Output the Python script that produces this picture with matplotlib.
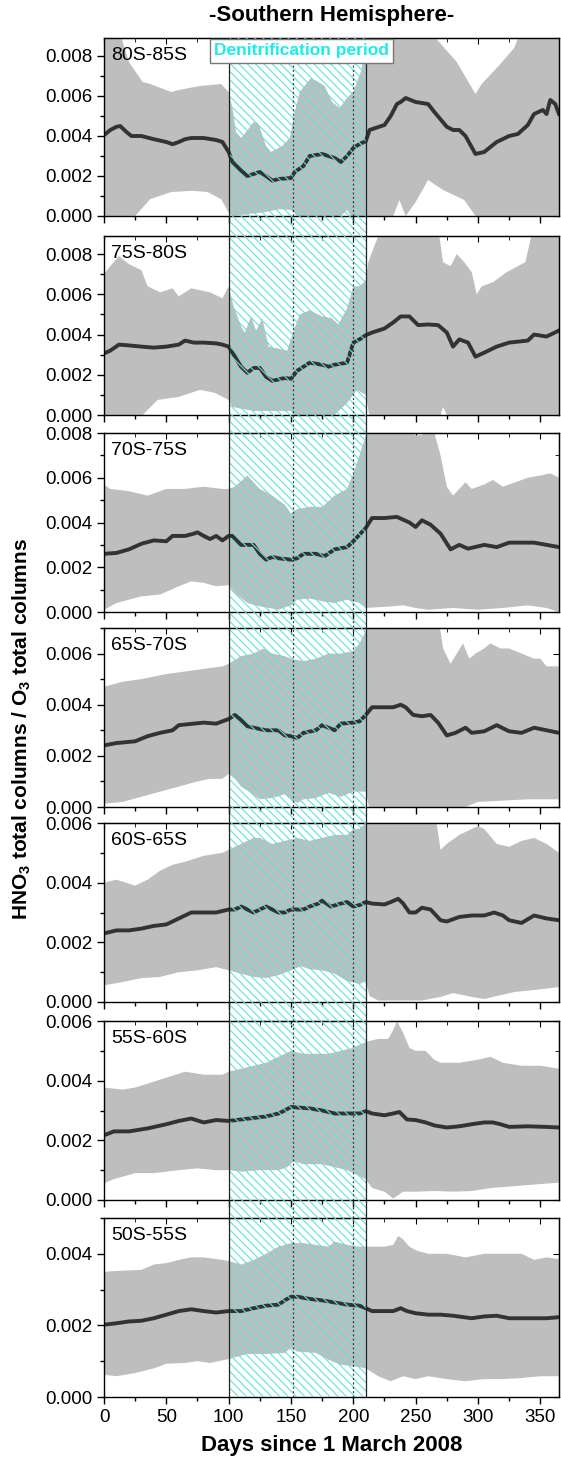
import numpy as np
import matplotlib
matplotlib.use('Agg')
import matplotlib.pyplot as plt
from matplotlib.ticker import MultipleLocator, FormatStrFormatter

plt.rcParams['font.family'] = ['Liberation Sans', 'DejaVu Sans']
plt.rcParams['mathtext.fontset'] = 'custom'
plt.rcParams['mathtext.rm'] = 'Liberation Sans'
plt.rcParams['mathtext.bf'] = 'Liberation Sans:bold'
plt.rcParams['hatch.color'] = '#5ee3e3'
plt.rcParams['hatch.linewidth'] = 0.8

# latitude bands, top to bottom
bands = ['80S-85S', '75S-80S', '70S-75S', '65S-70S', '60S-65S', '55S-60S', '50S-55S']
y_top = [0.0089, 0.0089, 0.008, 0.007, 0.006, 0.006, 0.005]

# denitrification period and marker days
denit_start, denit_end = 100, 210
marker_days = [152, 200]

# ---- 80S-85S
mean_d_80 = [0, 5, 10, 13, 18, 22, 30, 40, 50, 55, 60, 65, 70, 80, 90, 95, 100, 103, 110, 115, 125, 130, 135, 140, 150, 153, 160, 165, 175, 185, 190, 195, 200, 205, 210, 213, 225, 230, 235, 238, 242, 250, 260, 265, 275, 280, 285, 290, 298, 305, 315, 325, 332, 340, 345, 352, 355, 358, 362, 365]
mean_80 = [0.00404, 0.0043, 0.00446, 0.0045, 0.0042, 0.0040, 0.0040, 0.00384, 0.0037, 0.00359, 0.0037, 0.00384, 0.0039, 0.0039, 0.0038, 0.0037, 0.0032, 0.0027, 0.00227, 0.0020, 0.0022, 0.0020, 0.00177, 0.00185, 0.0019, 0.0022, 0.0025, 0.0030, 0.0031, 0.0029, 0.0027, 0.0030, 0.0034, 0.0036, 0.00374, 0.0043, 0.00455, 0.0050, 0.0056, 0.0057, 0.0059, 0.0057, 0.0056, 0.0052, 0.00446, 0.0043, 0.0043, 0.0040, 0.0031, 0.0032, 0.0037, 0.0040, 0.0041, 0.00455, 0.0051, 0.0053, 0.0051, 0.0058, 0.0056, 0.0051]
up_d_80 = [0, 12, 14, 20, 31, 37, 54, 60, 77, 94, 100, 103, 106, 110, 114, 120, 124, 130, 134, 143, 149, 153, 157, 166, 172, 177, 183, 189, 195, 200, 206, 209, 211, 264, 266, 283, 298, 303, 318, 329, 336, 365]
up_80 = [0.0095, 0.0095, 0.0089, 0.0077, 0.0067, 0.0066, 0.0062, 0.0063, 0.0065, 0.0066, 0.0062, 0.0054, 0.0042, 0.0039, 0.0042, 0.0047, 0.0046, 0.0035, 0.0032, 0.0035, 0.0039, 0.0052, 0.0062, 0.0069, 0.0067, 0.0065, 0.0057, 0.0054, 0.0059, 0.0062, 0.0072, 0.0081, 0.0095, 0.0095, 0.0089, 0.0077, 0.0061, 0.0066, 0.0076, 0.0084, 0.0095, 0.0095]
lo_d_80 = [0, 25, 37, 54, 71, 83, 94, 100, 103, 130, 140, 150, 155, 190, 195, 198, 232, 237, 242, 250, 260, 272, 289, 298, 365]
lo_80 = [-0.0003, 0.0, 0.00084, 0.0012, 0.00126, 0.0012, 0.00084, 0.00017, 0.0, 0.0002, 0.00034, 0.0003, 0.0, 0.0, 0.0003, 0.0, 0.0, 0.0008, 0.0, 0.0007, 0.0018, 0.0013, 0.0008, 0.0, -0.0002]

# ---- 75S-80S
mean_d_75 = [0, 5, 12, 20, 30, 40, 50, 60, 65, 72, 80, 90, 95, 100, 105, 110, 115, 120, 125, 130, 135, 145, 150, 155, 165, 175, 180, 185, 195, 200, 205, 210, 215, 225, 232, 238, 245, 252, 260, 268, 275, 280, 285, 292, 298, 305, 315, 325, 340, 345, 355, 365]
mean_75 = [0.00306, 0.0032, 0.0035, 0.00346, 0.0034, 0.00335, 0.0034, 0.0035, 0.0037, 0.0036, 0.0036, 0.00356, 0.0035, 0.0034, 0.0029, 0.0024, 0.0021, 0.00234, 0.00234, 0.0019, 0.0017, 0.00184, 0.0018, 0.0022, 0.0026, 0.0025, 0.0024, 0.0025, 0.0026, 0.0036, 0.00376, 0.00397, 0.0041, 0.0043, 0.0046, 0.0049, 0.0049, 0.00447, 0.0045, 0.00447, 0.0041, 0.0034, 0.00376, 0.0036, 0.0029, 0.0031, 0.0034, 0.0036, 0.0037, 0.0040, 0.0039, 0.0042]
up_d_75 = [0, 5, 12, 20, 30, 35, 45, 55, 60, 70, 85, 95, 100, 104, 110, 113, 118, 122, 127, 132, 140, 147, 150, 157, 165, 175, 183, 188, 195, 200, 205, 210, 212, 220, 223, 267, 269, 272, 278, 283, 289, 295, 299, 303, 312, 323, 338, 345, 365]
up_75 = [0.0070, 0.0074, 0.0079, 0.0075, 0.0072, 0.0064, 0.0061, 0.0063, 0.0059, 0.0063, 0.0061, 0.0058, 0.0064, 0.0054, 0.0044, 0.0041, 0.0049, 0.0042, 0.0048, 0.0034, 0.0033, 0.0032, 0.0038, 0.0050, 0.0052, 0.0049, 0.0048, 0.0045, 0.0053, 0.0064, 0.0064, 0.0067, 0.0076, 0.0089, 0.0095, 0.0095, 0.0089, 0.0076, 0.0074, 0.0080, 0.0076, 0.0071, 0.0060, 0.0064, 0.0066, 0.0071, 0.0076, 0.0095, 0.0095]
lo_d_75 = [0, 31, 43, 60, 77, 89, 100, 103, 120, 150, 152, 185, 195, 203, 210, 213, 270, 272, 275, 365]
lo_75 = [-0.0002, 0.0, 0.00075, 0.0009, 0.00125, 0.0011, 0.00075, 0.0004, 0.0002, 0.0002, 0.0, 0.0, 0.0006, 0.00125, 0.0010, -0.0001, 0.0, 0.0004, 0.0, -0.0002]

# ---- 70S-75S
mean_d_70 = [0, 10, 20, 30, 40, 50, 55, 65, 72, 75, 80, 85, 90, 95, 100, 103, 110, 120, 125, 130, 135, 140, 150, 155, 160, 170, 177, 185, 195, 200, 210, 215, 225, 235, 245, 250, 255, 262, 270, 278, 285, 292, 305, 315, 325, 335, 345, 355, 365]
mean_70 = [0.0026, 0.00264, 0.0028, 0.00305, 0.0032, 0.00316, 0.0034, 0.0034, 0.0035, 0.00356, 0.0034, 0.00326, 0.0034, 0.0032, 0.0034, 0.0034, 0.0030, 0.0030, 0.0026, 0.00234, 0.00246, 0.0024, 0.00234, 0.0024, 0.0026, 0.0026, 0.0025, 0.0028, 0.0029, 0.00316, 0.00376, 0.0042, 0.0042, 0.00425, 0.0040, 0.0038, 0.0041, 0.0039, 0.0035, 0.0028, 0.0030, 0.00283, 0.0030, 0.0029, 0.0031, 0.0031, 0.0031, 0.0030, 0.0029]
up_d_70 = [0, 5, 20, 35, 50, 65, 80, 95, 100, 105, 115, 125, 135, 145, 150, 155, 165, 175, 185, 195, 200, 205, 210, 213, 245, 250, 255, 260, 262, 265, 270, 275, 280, 285, 290, 295, 305, 312, 320, 330, 340, 350, 358, 365]
up_70 = [0.0057, 0.0055, 0.0054, 0.0052, 0.0055, 0.0055, 0.0056, 0.0055, 0.0055, 0.0056, 0.0061, 0.0055, 0.0052, 0.0048, 0.0044, 0.0046, 0.0047, 0.0047, 0.0052, 0.0055, 0.0062, 0.0070, 0.0079, 0.0085, 0.0081, 0.0079, 0.0079, 0.0081, 0.0085, 0.0080, 0.0070, 0.0056, 0.0052, 0.0055, 0.0058, 0.0055, 0.0057, 0.0059, 0.0056, 0.0058, 0.0060, 0.0061, 0.0062, 0.0060]
lo_d_70 = [0, 10, 20, 30, 45, 60, 70, 80, 90, 100, 105, 115, 125, 140, 150, 155, 165, 175, 185, 195, 205, 210, 230, 240, 250, 260, 280, 300, 320, 340, 355, 365]
lo_70 = [0.0001, 0.0004, 0.00055, 0.0007, 0.00078, 0.00115, 0.00137, 0.0013, 0.00115, 0.0012, 0.00085, 0.0004, 0.00025, 0.0001, 0.0003, 0.00055, 0.0006, 0.00048, 0.0004, 0.00055, 0.0004, 0.00018, 0.00025, 0.0003, 0.00018, 0.0001, 0.00018, 0.0001, 0.00018, 0.0003, 0.00018, 0.0]

# ---- 65S-70S
mean_d_65 = [0, 10, 25, 35, 45, 55, 60, 70, 80, 90, 95, 100, 105, 110, 115, 120, 130, 140, 145, 150, 155, 160, 170, 175, 185, 190, 200, 205, 210, 215, 225, 232, 238, 242, 248, 255, 262, 268, 275, 282, 290, 295, 305, 315, 325, 335, 345, 355, 365]
mean_65 = [0.00241, 0.0025, 0.00257, 0.00277, 0.0029, 0.0030, 0.0032, 0.00325, 0.0033, 0.00326, 0.00335, 0.00344, 0.0036, 0.0034, 0.00316, 0.0031, 0.0030, 0.0030, 0.0028, 0.00277, 0.0027, 0.0029, 0.0030, 0.0032, 0.0030, 0.00326, 0.0033, 0.00335, 0.0036, 0.0039, 0.0039, 0.0039, 0.0040, 0.0039, 0.0036, 0.00355, 0.0036, 0.0033, 0.0028, 0.0029, 0.0031, 0.0029, 0.00296, 0.0032, 0.00296, 0.0029, 0.0031, 0.0030, 0.0029]
up_d_65 = [0, 15, 30, 40, 50, 65, 80, 95, 100, 110, 120, 128, 135, 145, 150, 160, 170, 180, 190, 200, 205, 210, 212, 268, 272, 278, 283, 288, 293, 298, 305, 310, 318, 325, 335, 345, 350, 355, 365]
up_65 = [0.0047, 0.0049, 0.0050, 0.0051, 0.0052, 0.0053, 0.0054, 0.0055, 0.0056, 0.0059, 0.0060, 0.0062, 0.0060, 0.0059, 0.0058, 0.0057, 0.0058, 0.0060, 0.0060, 0.0061, 0.0064, 0.0069, 0.0075, 0.0075, 0.0062, 0.0056, 0.0060, 0.0064, 0.0058, 0.0060, 0.0062, 0.0064, 0.0062, 0.0062, 0.0060, 0.0058, 0.0058, 0.0055, 0.0055]
lo_d_65 = [0, 15, 30, 45, 60, 75, 85, 95, 100, 105, 110, 118, 125, 135, 145, 150, 155, 160, 170, 180, 190, 200, 210, 213, 290, 300, 340, 365]
lo_65 = [0.00013, 0.0002, 0.0004, 0.0006, 0.0008, 0.0010, 0.0011, 0.0011, 0.0013, 0.0011, 0.0008, 0.00055, 0.0003, 0.00035, 0.0005, 0.0003, 0.00016, 0.0003, 0.00035, 0.00055, 0.0004, 0.0006, 0.0006, -0.0001, 0.0, 0.0002, 0.0003, 0.0003]

# ---- 60S-65S
mean_d_60 = [0, 10, 20, 30, 40, 50, 60, 70, 80, 90, 100, 105, 110, 115, 120, 125, 130, 135, 140, 145, 150, 160, 165, 172, 175, 182, 190, 195, 200, 205, 210, 215, 225, 230, 236, 240, 245, 250, 255, 262, 270, 275, 285, 295, 305, 313, 320, 325, 335, 345, 355, 365]
mean_60 = [0.0023, 0.0024, 0.0024, 0.00246, 0.00255, 0.0026, 0.0028, 0.0030, 0.0030, 0.0030, 0.0031, 0.0031, 0.0032, 0.0031, 0.0030, 0.0031, 0.0032, 0.0031, 0.0030, 0.0030, 0.0031, 0.0031, 0.0032, 0.0033, 0.0034, 0.0032, 0.0033, 0.00335, 0.0032, 0.00325, 0.00335, 0.0033, 0.00327, 0.00335, 0.00346, 0.0033, 0.0030, 0.0030, 0.00316, 0.0031, 0.00274, 0.0027, 0.00285, 0.0029, 0.0029, 0.0030, 0.0029, 0.00274, 0.00265, 0.0029, 0.0028, 0.00274]
up_d_60 = [0, 10, 25, 35, 45, 55, 65, 80, 95, 100, 110, 120, 125, 135, 145, 155, 165, 175, 185, 195, 200, 205, 210, 212, 265, 270, 275, 285, 295, 300, 305, 315, 325, 335, 345, 355, 365]
up_60 = [0.0040, 0.0041, 0.0039, 0.0041, 0.0044, 0.0046, 0.0047, 0.0049, 0.0050, 0.0051, 0.0053, 0.0055, 0.0055, 0.0053, 0.0054, 0.0055, 0.0054, 0.0055, 0.0056, 0.0056, 0.0058, 0.0058, 0.0060, 0.0065, 0.0065, 0.0051, 0.0053, 0.0056, 0.0058, 0.0059, 0.0058, 0.0053, 0.0052, 0.0054, 0.0055, 0.0053, 0.0050]
lo_d_60 = [0, 15, 30, 45, 60, 75, 90, 100, 110, 120, 130, 140, 150, 158, 165, 175, 185, 195, 205, 210, 213, 220, 255, 270, 280, 295, 305, 315, 330, 345, 355, 365]
lo_60 = [0.00056, 0.00067, 0.0008, 0.00084, 0.0010, 0.00106, 0.00117, 0.00106, 0.00095, 0.00084, 0.0008, 0.0009, 0.00106, 0.0012, 0.0011, 0.00106, 0.00095, 0.0007, 0.0006, 0.0007, 0.0002, 0.00005, 0.00005, 0.00017, 0.0003, 0.00017, 0.0001, 0.0002, 0.00034, 0.0004, 0.00045, 0.0005]

# ---- 55S-60S
mean_d_55 = [0, 8, 20, 35, 50, 60, 70, 80, 90, 100, 110, 120, 130, 140, 145, 150, 155, 165, 175, 185, 195, 205, 210, 215, 225, 232, 237, 243, 250, 258, 265, 275, 285, 295, 305, 312, 318, 325, 340, 355, 365]
mean_55 = [0.00217, 0.0023, 0.0023, 0.0024, 0.00254, 0.00265, 0.00273, 0.0026, 0.00268, 0.00265, 0.0027, 0.00275, 0.0028, 0.0029, 0.0030, 0.00312, 0.0031, 0.00307, 0.0030, 0.0029, 0.0029, 0.0029, 0.00298, 0.0029, 0.00284, 0.0029, 0.00295, 0.0027, 0.00268, 0.0026, 0.0025, 0.00243, 0.00247, 0.00254, 0.0026, 0.0026, 0.00254, 0.00245, 0.00247, 0.00245, 0.00243]
up_d_55 = [0, 15, 25, 35, 50, 65, 80, 95, 100, 110, 120, 130, 140, 150, 160, 170, 180, 190, 200, 210, 220, 228, 232, 235, 240, 245, 250, 258, 265, 270, 285, 300, 310, 315, 320, 335, 350, 365]
up_55 = [0.00377, 0.0037, 0.00377, 0.0039, 0.0041, 0.0043, 0.0042, 0.0042, 0.0043, 0.0044, 0.0045, 0.0046, 0.0048, 0.0050, 0.0049, 0.0049, 0.0049, 0.0050, 0.0051, 0.0053, 0.0054, 0.0054, 0.0057, 0.0060, 0.0056, 0.0051, 0.0050, 0.0050, 0.0047, 0.0046, 0.0046, 0.0047, 0.0048, 0.0047, 0.0046, 0.0045, 0.0045, 0.0044]
lo_d_55 = [0, 8, 25, 40, 60, 75, 90, 100, 110, 125, 140, 147, 152, 160, 175, 185, 195, 205, 210, 215, 225, 232, 240, 250, 265, 280, 295, 310, 325, 340, 355, 365]
lo_55 = [0.00056, 0.0007, 0.0009, 0.0009, 0.0010, 0.00106, 0.0010, 0.0010, 0.00095, 0.0010, 0.0010, 0.0011, 0.0013, 0.0012, 0.0012, 0.0011, 0.0010, 0.0008, 0.0007, 0.0004, 0.00028, 0.00005, 0.00028, 0.00028, 0.0003, 0.00028, 0.0003, 0.0004, 0.00045, 0.0005, 0.00055, 0.00058]

# ---- 50S-55S
mean_d_50 = [0, 10, 20, 30, 40, 50, 60, 70, 80, 90, 100, 110, 120, 130, 140, 145, 150, 155, 165, 175, 185, 195, 205, 210, 215, 225, 232, 238, 243, 250, 260, 270, 280, 295, 305, 315, 325, 340, 355, 365]
mean_50 = [0.00202, 0.00206, 0.00211, 0.00213, 0.0022, 0.0023, 0.0024, 0.00245, 0.0024, 0.00236, 0.0024, 0.0024, 0.00248, 0.00255, 0.00258, 0.0027, 0.0028, 0.0028, 0.00274, 0.0027, 0.00264, 0.00258, 0.00255, 0.00248, 0.0024, 0.0024, 0.0024, 0.00248, 0.0024, 0.00234, 0.0023, 0.0023, 0.00227, 0.0022, 0.00225, 0.00227, 0.0022, 0.0022, 0.0022, 0.00223]
up_d_50 = [0, 15, 30, 40, 50, 60, 70, 80, 95, 100, 110, 120, 130, 140, 150, 160, 170, 180, 185, 195, 205, 210, 225, 232, 236, 240, 245, 250, 260, 275, 290, 305, 320, 335, 345, 355, 365]
up_50 = [0.0035, 0.00353, 0.00355, 0.0037, 0.00374, 0.00383, 0.0039, 0.0039, 0.00383, 0.0038, 0.0037, 0.00383, 0.0040, 0.0042, 0.0043, 0.0043, 0.00425, 0.0042, 0.00434, 0.00425, 0.0042, 0.0042, 0.0042, 0.00425, 0.0045, 0.0044, 0.0042, 0.0041, 0.0040, 0.0040, 0.0039, 0.0040, 0.0040, 0.0040, 0.00383, 0.0039, 0.00385]
lo_d_50 = [0, 10, 25, 40, 50, 65, 75, 85, 100, 115, 130, 145, 150, 155, 170, 180, 190, 200, 210, 220, 230, 240, 250, 260, 275, 290, 305, 320, 335, 350, 365]
lo_50 = [0.00062, 0.00058, 0.00067, 0.0008, 0.00093, 0.00095, 0.0010, 0.00095, 0.00106, 0.0012, 0.0012, 0.00123, 0.00137, 0.00127, 0.00123, 0.00104, 0.0009, 0.00086, 0.0008, 0.00058, 0.00044, 0.00058, 0.0005, 0.00058, 0.0005, 0.00044, 0.0005, 0.0005, 0.00053, 0.00058, 0.00058]

series = [
    (mean_d_80, mean_80, up_d_80, up_80, lo_d_80, lo_80),
    (mean_d_75, mean_75, up_d_75, up_75, lo_d_75, lo_75),
    (mean_d_70, mean_70, up_d_70, up_70, lo_d_70, lo_70),
    (mean_d_65, mean_65, up_d_65, up_65, lo_d_65, lo_65),
    (mean_d_60, mean_60, up_d_60, up_60, lo_d_60, lo_60),
    (mean_d_55, mean_55, up_d_55, up_55, lo_d_55, lo_55),
    (mean_d_50, mean_50, up_d_50, up_50, lo_d_50, lo_50),
]

W, H = 561, 1463
fig = plt.figure(figsize=(W / 100, H / 100), dpi=100)

# panel extents in pixels (top, bottom)
panel_px = [(38, 216), (236, 415), (433, 612), (628, 807), (823, 1002), (1021, 1200), (1218, 1397)]
x0, x1 = 104, 559
left = x0 / W
width = (x1 - x0) / W

grey = '#bebebe'
line_col = '#333333'
axes = []
for i, (top, bot) in enumerate(panel_px):
    ax = fig.add_axes([left, 1 - bot / H, width, (bot - top) / H])
    md, m, ud, u, ld, lo = series[i]
    poly_x = np.concatenate([ud, ld[::-1]])
    poly_y = np.concatenate([u, lo[::-1]])
    ax.fill(poly_x, poly_y, color=grey, lw=0, zorder=1)
    ax.plot(md, m, color=line_col, lw=2.8, zorder=2)
    ax.set_xlim(0, 365)
    ax.set_ylim(0, y_top[i])
    ax.yaxis.set_major_locator(MultipleLocator(0.002))
    ax.yaxis.set_minor_locator(MultipleLocator(0.001))
    ax.yaxis.set_major_formatter(FormatStrFormatter('%.3f'))
    ax.xaxis.set_major_locator(MultipleLocator(50))
    ax.xaxis.set_minor_locator(MultipleLocator(25))
    ax.tick_params(which='both', direction='out', labelsize=13.5)
    ax.tick_params(which='major', length=5, width=1)
    ax.tick_params(which='minor', length=3, width=1)
    # top and right ticks point inwards
    ax2 = ax.secondary_xaxis('top')
    ax2.xaxis.set_major_locator(MultipleLocator(50))
    ax2.xaxis.set_minor_locator(MultipleLocator(25))
    ax2.tick_params(which='both', direction='in', labeltop=False)
    ax2.tick_params(which='major', length=4)
    ax2.tick_params(which='minor', length=3)
    ay2 = ax.secondary_yaxis('right')
    ay2.yaxis.set_major_locator(MultipleLocator(0.002))
    ay2.yaxis.set_minor_locator(MultipleLocator(0.001))
    ay2.tick_params(which='both', direction='in', labelright=False)
    ay2.tick_params(which='major', length=4)
    ay2.tick_params(which='minor', length=3)
    if i < len(panel_px) - 1:
        ax.tick_params(axis='x', labelbottom=False)
    for s in ax.spines.values():
        s.set_linewidth(1.0)
    ax.text(0.015, 0.95, bands[i], transform=ax.transAxes, ha='left', va='top',
            fontsize=14, zorder=5)
    axes.append(ax)

# overlay for the hatched denitrification period across all panels
top_px, bot_px = panel_px[0][0], panel_px[-1][1]
ov = fig.add_axes([left, 1 - bot_px / H, width, (bot_px - top_px) / H], zorder=5)
ov.set_xlim(0, 365)
ov.set_ylim(0, 1)
ov.axis('off')
ov.patch.set_alpha(0)
ov.axvspan(denit_start, denit_end, facecolor='none', edgecolor='#5ee3e3',
           hatch='\\\\\\\\', lw=0)
for d in (denit_start, denit_end):
    ov.axvline(d, color='#222222', lw=0.9)
for d in marker_days:
    ov.axvline(d, color='#333333', lw=0.9, ls=(0, (1.5, 2)))

fig.text((205 + 398) / 2 / W, 1 - 51 / H, 'Denitrification period', color='#19ecec',
         fontsize=12.5, fontweight='bold', ha='center', va='center', zorder=10,
         bbox=dict(boxstyle='square,pad=0.25', facecolor='white', edgecolor='#777777', lw=1))

cx = (x0 + x1) / 2 / W
fig.text(cx, 1 - 16 / H, '-Southern Hemisphere-', fontsize=16, fontweight='bold',
         ha='center', va='center')
fig.text(cx, 1 - 1445 / H, 'Days since 1 March 2008', fontsize=16, fontweight='bold',
         ha='center', va='center')
fig.text(22 / W, 1 - 729 / H, r'HNO$_\mathbf{3}$ total columns / O$_\mathbf{3}$ total columns',
         fontsize=15, fontweight='bold', rotation=90, ha='center', va='center')

fig.savefig('out.png', dpi=100)
